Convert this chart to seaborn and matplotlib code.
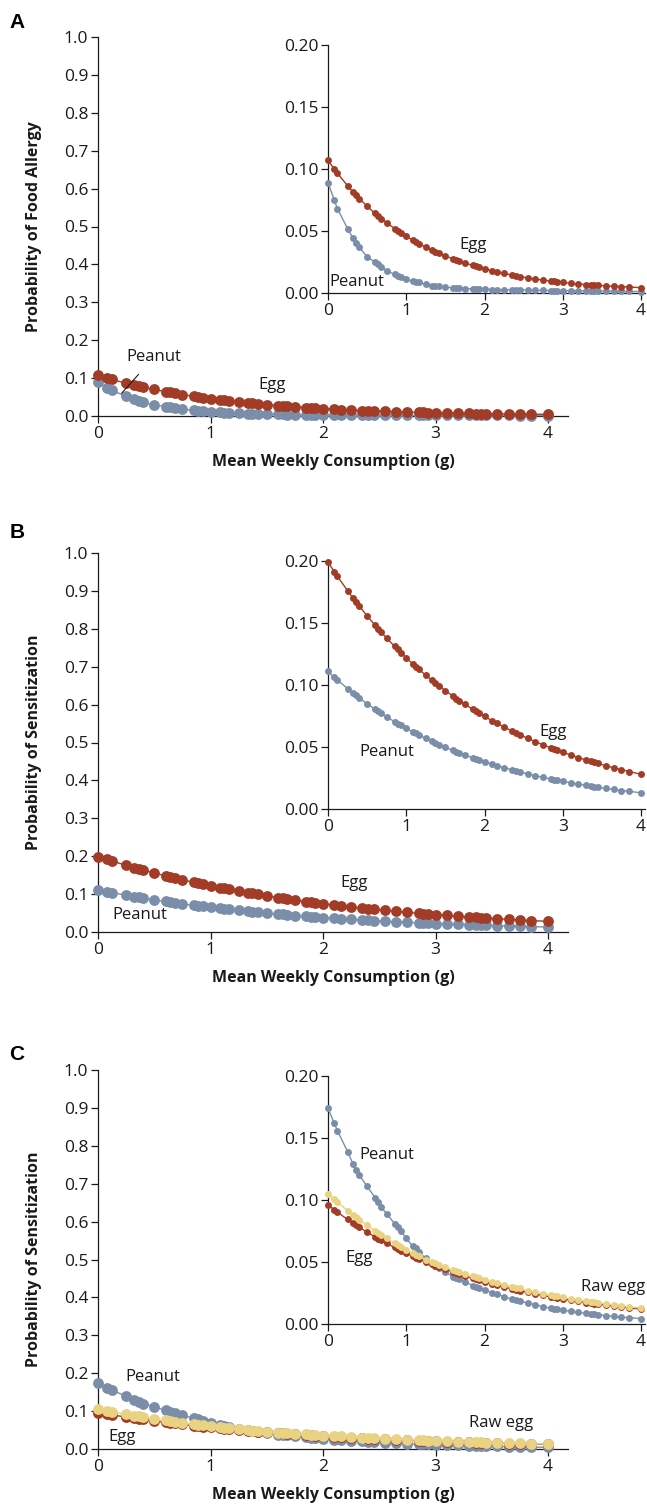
import matplotlib
matplotlib.use("Agg")
import matplotlib.pyplot as plt
import seaborn as sns

# ---------------- data ----------------
x_consumption = [0.00, 0.08, 0.12, 0.25, 0.32, 0.36, 0.40, 0.50, 0.60, 0.64, 0.68, 0.75,
                 0.85, 0.89, 0.93, 1.00, 1.08, 1.12, 1.16, 1.25, 1.33, 1.37, 1.42, 1.50,
                 1.60, 1.64, 1.68, 1.75, 1.85, 1.89, 1.93, 2.00, 2.10, 2.16, 2.25, 2.35,
                 2.40, 2.45, 2.55, 2.65, 2.75, 2.85, 2.89, 2.93, 3.00, 3.10, 3.20, 3.30,
                 3.36, 3.40, 3.45, 3.55, 3.65, 3.75, 3.85, 4.00]

# Panel A: probability of food allergy
a_egg = [0.107, 0.100, 0.0966, 0.0865, 0.0815, 0.0788, 0.0762, 0.0700, 0.0642, 0.0621, 0.0600, 0.0566,
         0.0520, 0.0502, 0.0485, 0.0457, 0.0427, 0.0413, 0.0399, 0.0370, 0.0346, 0.0334, 0.0320, 0.0299,
         0.0275, 0.0265, 0.0257, 0.0242, 0.0222, 0.0215, 0.0207, 0.0195, 0.0180, 0.0171, 0.0158, 0.0145,
         0.0139, 0.0133, 0.0122, 0.0112, 0.0104, 0.0096, 0.0093, 0.0090, 0.0085, 0.0079, 0.0073, 0.0068,
         0.0065, 0.0063, 0.0061, 0.0057, 0.0054, 0.0051, 0.0048, 0.0043]
a_peanut = [0.089, 0.075, 0.068, 0.052, 0.044, 0.040, 0.037, 0.029, 0.025, 0.023, 0.021, 0.018,
            0.015, 0.014, 0.013, 0.011, 0.0095, 0.0090, 0.0085, 0.0070, 0.0060, 0.0057, 0.0053, 0.0047,
            0.0042, 0.0040, 0.0038, 0.0036, 0.0033, 0.0032, 0.0031, 0.0030, 0.0028, 0.0027, 0.0026, 0.0025,
            0.0024, 0.0024, 0.0023, 0.0022, 0.0021, 0.0020, 0.0020, 0.0019, 0.0019, 0.0018, 0.0017, 0.0016,
            0.0016, 0.0015, 0.0015, 0.0014, 0.0014, 0.0013, 0.0013, 0.0012]

# Panel B: probability of sensitization
b_egg = [0.199, 0.1914, 0.1876, 0.1761, 0.1701, 0.1668, 0.1636, 0.1558, 0.1483, 0.1454, 0.1426, 0.1378,
         0.1312, 0.1287, 0.1262, 0.1219, 0.1172, 0.1149, 0.1127, 0.1079, 0.1037, 0.1017, 0.0992, 0.0954,
         0.0909, 0.0891, 0.0874, 0.0844, 0.0804, 0.0788, 0.0773, 0.0747, 0.0711, 0.0691, 0.0661, 0.0629,
         0.0614, 0.0599, 0.0571, 0.0543, 0.0517, 0.0493, 0.0483, 0.0474, 0.0458, 0.0436, 0.0415, 0.0395,
         0.0384, 0.0376, 0.0367, 0.0349, 0.0333, 0.0317, 0.0302, 0.0280]
b_peanut = [0.111, 0.1063, 0.1041, 0.0971, 0.0935, 0.0916, 0.0896, 0.0849, 0.0805, 0.0788, 0.0771, 0.0743,
            0.0704, 0.0689, 0.0675, 0.0650, 0.0623, 0.0610, 0.0597, 0.0569, 0.0545, 0.0533, 0.0519, 0.0497,
            0.0472, 0.0462, 0.0452, 0.0435, 0.0413, 0.0404, 0.0395, 0.0381, 0.0361, 0.0350, 0.0333, 0.0316,
            0.0307, 0.0299, 0.0284, 0.0269, 0.0255, 0.0242, 0.0236, 0.0232, 0.0223, 0.0211, 0.0200, 0.0190,
            0.0184, 0.0180, 0.0175, 0.0166, 0.0158, 0.0149, 0.0142, 0.0131]

# Panel C: probability of sensitization (peanut, egg, raw egg)
c_peanut = [0.174, 0.162, 0.156, 0.139, 0.129, 0.124, 0.120, 0.111, 0.102, 0.098, 0.094, 0.089,
            0.081, 0.078, 0.075, 0.069, 0.063, 0.061, 0.058, 0.053, 0.049, 0.047, 0.045, 0.042,
            0.038, 0.037, 0.036, 0.034, 0.031, 0.030, 0.029, 0.0275, 0.025, 0.024, 0.022, 0.020,
            0.019, 0.0185, 0.017, 0.0155, 0.014, 0.0128, 0.0124, 0.012, 0.0112, 0.0102, 0.0093, 0.0085,
            0.0080, 0.0077, 0.0074, 0.0068, 0.0062, 0.0056, 0.0051, 0.0044]
c_egg = [0.0960, 0.0921, 0.0902, 0.0843, 0.0813, 0.0796, 0.0780, 0.0740, 0.0703, 0.0688, 0.0674, 0.0650,
         0.0617, 0.0604, 0.0592, 0.0571, 0.0547, 0.0536, 0.0525, 0.0501, 0.0481, 0.0471, 0.0459, 0.0440,
         0.0418, 0.0409, 0.0401, 0.0386, 0.0367, 0.0359, 0.0352, 0.0339, 0.0322, 0.0312, 0.0298, 0.0283,
         0.0276, 0.0268, 0.0255, 0.0242, 0.0230, 0.0218, 0.0214, 0.0209, 0.0202, 0.0192, 0.0182, 0.0173,
         0.0167, 0.0164, 0.0160, 0.0152, 0.0144, 0.0137, 0.0130, 0.0120]
c_raw_egg = [0.105, 0.1005, 0.0983, 0.0915, 0.0880, 0.0860, 0.0842, 0.0795, 0.0752, 0.0735, 0.0718, 0.0690,
             0.0652, 0.0637, 0.0622, 0.0598, 0.0571, 0.0558, 0.0546, 0.0520, 0.0498, 0.0488, 0.0476, 0.0457,
             0.0435, 0.0426, 0.0418, 0.0403, 0.0384, 0.0376, 0.0369, 0.0356, 0.0339, 0.0330, 0.0316, 0.0301,
             0.0294, 0.0287, 0.0270, 0.0257, 0.0244, 0.0232, 0.0228, 0.0223, 0.0215, 0.0204, 0.0194, 0.0184,
             0.0178, 0.0175, 0.0171, 0.0162, 0.0154, 0.0146, 0.0139, 0.0128]

main_yticks = [0.0, 0.1, 0.2, 0.3, 0.4, 0.5, 0.6, 0.7, 0.8, 0.9, 1.0]
inset_yticks = [0.00, 0.05, 0.10, 0.15, 0.20]
xticks = [0, 1, 2, 3, 4]
ylabels = ["Probability of Food Allergy", "Probability of Sensitization", "Probability of Sensitization"]
panel_letters = ["A", "B", "C"]
xlabel = "Mean Weekly Consumption (g)"

# ---------------- style ----------------
sns.set_style("ticks")
plt.rcParams["font.family"] = ["Open Sans", "DejaVu Sans"]
plt.rcParams["axes.linewidth"] = 0.9
plt.rcParams["axes.edgecolor"] = "#1a1a1a"

EGG = "#A23C26"
PEANUT = "#7A8EAA"
RAW = "#EAD283"
TXT = "#1a1a1a"
TICK_FS = 12.5
NOTE_FS = 12

W, H = 647, 1509
fig = plt.figure(figsize=(W / 100, H / 100), dpi=100)


def px_axes(left, right, top, bottom):
    return fig.add_axes([left / W, 1 - bottom / H, (right - left) / W, (bottom - top) / H])


def style(ax, xmax, ymax, yticks, yfmt, fs):
    ax.set_xlim(0, xmax)
    ax.set_ylim(0, ymax)
    ax.set_xticks(xticks)
    ax.set_yticks(yticks)
    ax.set_xticklabels([str(t) for t in xticks])
    ax.set_yticklabels([yfmt.format(t) for t in yticks])
    for s in ["top", "right"]:
        ax.spines[s].set_visible(False)
    ax.tick_params(direction="out", length=5, width=0.9, labelsize=fs, pad=2,
                   colors=TXT)
    ax.set_xlabel("")
    ax.set_ylabel("")
    ax.patch.set_alpha(0)


def draw(ax, y, color, ms, lw, z):
    sns.lineplot(x=x_consumption, y=y, ax=ax, color=color, marker="o",
                 markersize=ms, markeredgewidth=0, linewidth=lw,
                 clip_on=False, zorder=z, legend=False)


main_bottoms = [416, 932, 1449]
inset_bottoms = [293, 809, 1324]
letter_y = [22, 533, 1055]

main_series = [
    [(a_peanut, PEANUT), (a_egg, EGG)],
    [(b_peanut, PEANUT), (b_egg, EGG)],
    [(c_peanut, PEANUT), (c_egg, EGG), (c_raw_egg, RAW)],
]

main_labels = [
    [("Egg", 1.55, 0.082)],
    [("Egg", 2.28, 0.129), ("Peanut", 0.37, 0.045)],
    [("Peanut", 0.49, 0.19), ("Egg", 0.21, 0.032), ("Raw egg", 3.58, 0.068)],
]
inset_labels = [
    [("Egg", 1.85, 0.0387), ("Peanut", 0.37, 0.0089)],
    [("Egg", 2.88, 0.0623), ("Peanut", 0.75, 0.046)],
    [("Peanut", 0.75, 0.136), ("Egg", 0.40, 0.0536), ("Raw egg", 3.64, 0.0296)],
]

for i in range(3):
    yb = main_bottoms[i]
    ax = px_axes(98, 98 + 4.18 * 112.5, yb - 379, yb)
    for k, (ys, col) in enumerate(main_series[i]):
        draw(ax, ys, col, 7.8, 1.0, 3 + k)
    style(ax, 4.18, 1.0, main_yticks, "{:.1f}", TICK_FS)
    ax.set_ylabel(ylabels[i], fontsize=11.5, fontweight="bold", color=TXT)
    ax.yaxis.set_label_coords(-0.12, 0.5)
    ax.set_xlabel(xlabel, fontsize=11.5, fontweight="bold", color=TXT)
    ax.xaxis.set_label_coords(0.5, -0.10)
    for (t, x, y) in main_labels[i]:
        ax.text(x, y, t, fontsize=NOTE_FS, ha="center", va="center", color=TXT, zorder=10)
    if i == 0:
        ax.annotate("Peanut", xy=(0.21, 0.060), xytext=(0.50, 0.156), fontsize=NOTE_FS,
                    ha="center", va="center", color=TXT, zorder=10,
                    arrowprops=dict(arrowstyle="-", lw=0.8, color=TXT,
                                    shrinkA=6, shrinkB=0))

    ib = inset_bottoms[i]
    ins = px_axes(328, 328 + 4.05 * 78.25, ib - 248, ib)
    for k, (ys, col) in enumerate(main_series[i]):
        draw(ins, ys, col, 5.0, 1.0, 3 + k)
    style(ins, 4.05, 0.20, inset_yticks, "{:.2f}", TICK_FS)
    for (t, x, y) in inset_labels[i]:
        ins.text(x, y, t, fontsize=NOTE_FS, ha="center", va="center", color=TXT, zorder=10)

    fig.text(17 / W, 1 - letter_y[i] / H, panel_letters[i], fontsize=15,
             fontweight="bold", ha="center", va="center", color="black",
             family=["Liberation Sans", "DejaVu Sans"])

fig.savefig("out.png", dpi=100)
